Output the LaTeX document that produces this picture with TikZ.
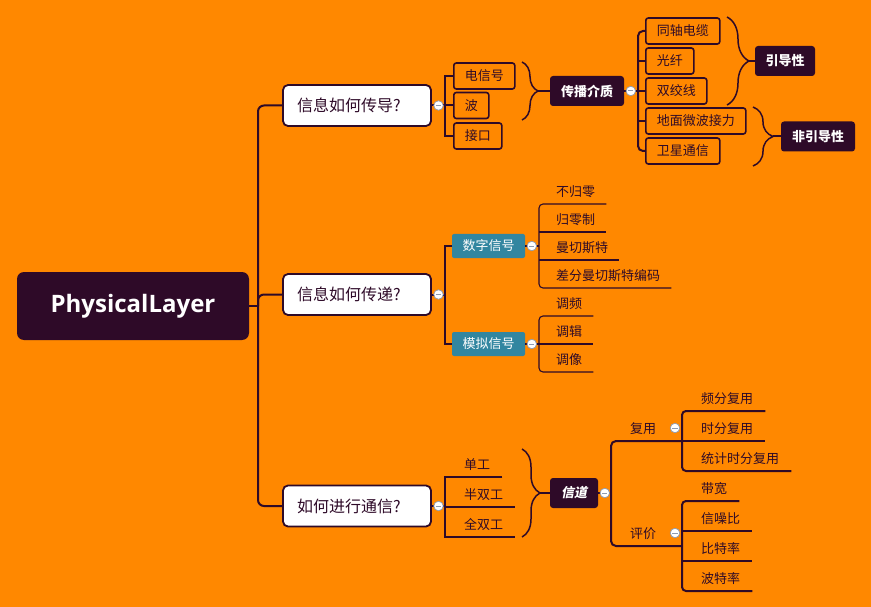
\documentclass[tikz,border=0pt]{standalone}
\usepackage{fontspec}
\setmainfont{Noto Sans CJK SC}
\newfontfamily\rootfont{Open Sans}
\newfontfamily\chanfont{Noto Sans CJK SC}[FakeSlant=0.2]
\usetikzlibrary{positioning,decorations.pathreplacing}
\definecolor{bgorange}{HTML}{FF8800}
\definecolor{ink}{HTML}{2E0A28}
\definecolor{sigteal}{HTML}{3286A0}
\definecolor{foldgray}{HTML}{8E9BB0}
\newcommand\topsize{\fontsize{16}{19}\selectfont}
\newcommand\smallsize{\fontsize{13}{16}\selectfont}

\begin{document}
\begin{tikzpicture}[x=1pt,y=-1pt,
  rootbox/.style={fill=ink, rounded corners=7pt, minimum width=232pt, minimum height=68pt,
    text=white, font=\rootfont\fontsize{24}{28}\selectfont\bfseries},
  topbox/.style={draw=ink, fill=white, line width=1.8pt, rounded corners=5pt,
    text width=120pt, align=left, inner xsep=14pt, minimum height=41pt, text=ink, font=\topsize},
  midbox/.style={draw=ink, line width=1.6pt, rounded corners=2.5pt, anchor=west,
    minimum height=26pt, inner xsep=11pt, text=ink, font=\smallsize},
  darkbox/.style={fill=ink, rounded corners=3pt, minimum height=30pt, inner xsep=9pt,
    text=white, font=\smallsize\bfseries},
  sigbox/.style={fill=sigteal, rounded corners=2pt, minimum width=73pt, minimum height=24pt,
    text=white, font=\smallsize},
  leaf/.style={anchor=south west, inner sep=0pt, text depth=7pt, text=ink, font=\smallsize},
  conn/.style={draw=ink, line width=2pt},
  thinconn/.style={draw=ink, line width=1.1pt},
  bracedeco/.style={draw=ink, line width=1.5pt, decorate, decoration={brace, amplitude=#1}},
  fold/.style={circle, draw=foldgray, fill=white, line width=0.7pt, minimum size=9.5pt, inner sep=0pt,
    path picture={\draw[foldgray, line width=1pt] ([xshift=-2.6pt]path picture bounding box.center)
      -- ([xshift=2.6pt]path picture bounding box.center);}}
]
\fill[bgorange] (0,0) rectangle (871,607);
\useasboundingbox (0,0) rectangle (871,607);

%根节点
\node[rootbox] (root) at (133,306) {PhysicalLayer};
\node[topbox] (q1) at (357,105.5) {信息如何传导?};
\node[topbox] (q2) at (357,294.5) {信息如何传递?};
\node[topbox] (q3) at (357,506) {如何进行通信?};

%传导
\node[midbox] (s1) at (453,76) {电信号};
\node[midbox] (s2) at (453,105.5) {波};
\node[midbox] (s3) at (453,136) {接口};
\node[darkbox, minimum width=74pt] (medium) at (587,91) {传播介质};
\node[midbox] (g1) at (645,31) {同轴电缆};
\node[midbox] (g2) at (645,61) {光纤};
\node[midbox] (g3) at (645,91) {双绞线};
\node[midbox] (g4) at (645,121) {地面微波接力};
\node[midbox] (g5) at (645,151) {卫星通信};
\node[darkbox, minimum width=60pt] (guided) at (785,61) {引导性};
\node[darkbox, minimum width=74pt] (unguided) at (818,136.5) {非引导性};

%传递
\node[sigbox] (digital) at (488.5,246) {数字信号};
\node[sigbox] (analog) at (488.5,344) {模拟信号};
\node[leaf] (d1) at (556,204) {不归零};
\node[leaf] (d2) at (556,232) {归零制};
\node[leaf] (d3) at (556,260) {曼切斯特};
\node[leaf] (d4) at (556,288) {差分曼切斯特编码};
\node[leaf] (a1) at (556,316) {调频};
\node[leaf] (a2) at (556,344) {调辑};
\node[leaf] (a3) at (556,372) {调像};

%通信
\node[leaf] (u1) at (464,477) {单工};
\node[leaf] (u2) at (464,507) {半双工};
\node[leaf] (u3) at (464,537) {全双工};
\node[darkbox, minimum width=48pt, font=\smallsize\chanfont\bfseries] (chan) at (574,493) {信道};
\node[leaf] (mux) at (630,441) {复用};
\node[leaf] (eva) at (630,546) {评价};
\node[leaf] (f1) at (701,411) {频分复用};
\node[leaf] (f2) at (701,441) {时分复用};
\node[leaf] (f3) at (701,471) {统计时分复用};
\node[leaf] (e1) at (701,501) {带宽};
\node[leaf] (e2) at (701,531) {信噪比};
\node[leaf] (e3) at (701,561) {比特率};
\node[leaf] (e4) at (701,591) {波特率};

%连线
\coordinate (t0) at (258,306);
\draw[conn, rounded corners=6pt] (q1.west) -| (t0) |- (q3.west);
\draw[conn, rounded corners=6pt] (t0) |- (q2.west);
\draw[conn] (root.east) -- (t0);

\coordinate (t1) at (445,105.5);
\draw[conn] (s1.west) -| (t1) |- (s3.west);
\draw[conn] (q1.east) -- (t1) -- (s2.west);

\coordinate (t2) at (638,91);
\draw[conn, rounded corners=5pt] (g1.west) -| (t2) |- (g5.west);
\draw[conn] (medium.east) -- (t2) -- (g3.west);
\foreach \g in {g2,g4} \draw[conn] (t2 |- \g.west) -- (\g.west);

\coordinate (t3) at (445,294.5);
\draw[conn] (digital.west) -| (t3) |- (analog.west);
\draw[conn] (q2.east) -- (t3);

\coordinate (t4) at (539,246);
\draw[thinconn, rounded corners=4pt] ([xshift=11pt]d1.south east) -| (t4) |- ([xshift=11pt]d4.south east);
\draw[thinconn] (digital.east) -- (t4);
\foreach \d in {d2,d3} \draw[thinconn] (t4 |- \d.south) -- ([xshift=11pt]\d.south east);

\coordinate (t5) at (539,344);
\draw[thinconn, rounded corners=4pt] ([xshift=11pt]a1.south east) -| (t5) |- ([xshift=11pt]a3.south east);
\draw[thinconn] (analog.east) -- (t5) -- ([xshift=11pt]a2.south east);

\coordinate (t6) at (445,506);
\draw[conn] ([xshift=12pt]u1.south east) -| (t6) |- ([xshift=12pt]u3.south east);
\draw[conn] (q3.east) -- (t6);
\draw[conn] (t6 |- u2.south) -- ([xshift=12pt]u2.south east);

\coordinate (t7) at (611,493);
\coordinate (t8) at (682,441);
\coordinate (t9) at (682,546);
\draw[conn, rounded corners=5pt] (t8) -| (t7) |- (t9);
\draw[conn] (chan.east) -- (t7);
\draw[conn, rounded corners=4pt] ([xshift=12pt]f1.south east) -| (t8) |- ([xshift=12pt]f3.south east);
\draw[conn] (t8) -- ([xshift=12pt]f2.south east);
\draw[conn, rounded corners=4pt] ([xshift=12pt]e1.south east) -| (t9) |- ([xshift=12pt]e4.south east);
\foreach \e in {e2,e3} \draw[conn] (t9 |- \e.south) -- ([xshift=12pt]\e.south east);

%大括号
\coordinate (b1a) at (522,62);  \coordinate (b1b) at (522,120); \coordinate (b1c) at (538,91);
\coordinate (b2a) at (727,17);  \coordinate (b2b) at (727,105); \coordinate (b2c) at (749,61);
\coordinate (b3a) at (753,107); \coordinate (b3b) at (753,166); \coordinate (b3c) at (773,136.5);
\coordinate (b4a) at (522,449); \coordinate (b4b) at (522,537); \coordinate (b4c) at (540,493);
\draw[bracedeco=16pt] (b1a) -- (b1b);
\draw[bracedeco=22pt] (b2a) -- (b2b);
\draw[bracedeco=20pt] (b3a) -- (b3b);
\draw[bracedeco=18pt] (b4a) -- (b4b);
\draw[conn] (b1c) -- (medium.west);
\draw[conn] (b2c) -- (guided.west);
\draw[conn] (b3c) -- (unguided.west);
\draw[conn] (b4c) -- (chan.west);

%折叠按钮
\node[fold, right=1.5pt of q1] (fq1) {};
\node[fold, right=1.5pt of q2] (fq2) {};
\node[fold, right=1.5pt of q3] (fq3) {};
\node[fold, right=1.5pt of medium] (fmed) {};
\node[fold, right=1.5pt of digital] (fdig) {};
\node[fold, right=1.5pt of analog] (fana) {};
\node[fold, right=1.5pt of chan] (fchan) {};
\node[fold] (fmux) at (675,428) {};
\node[fold] (feva) at (675,533) {};
\end{tikzpicture}
\end{document}
